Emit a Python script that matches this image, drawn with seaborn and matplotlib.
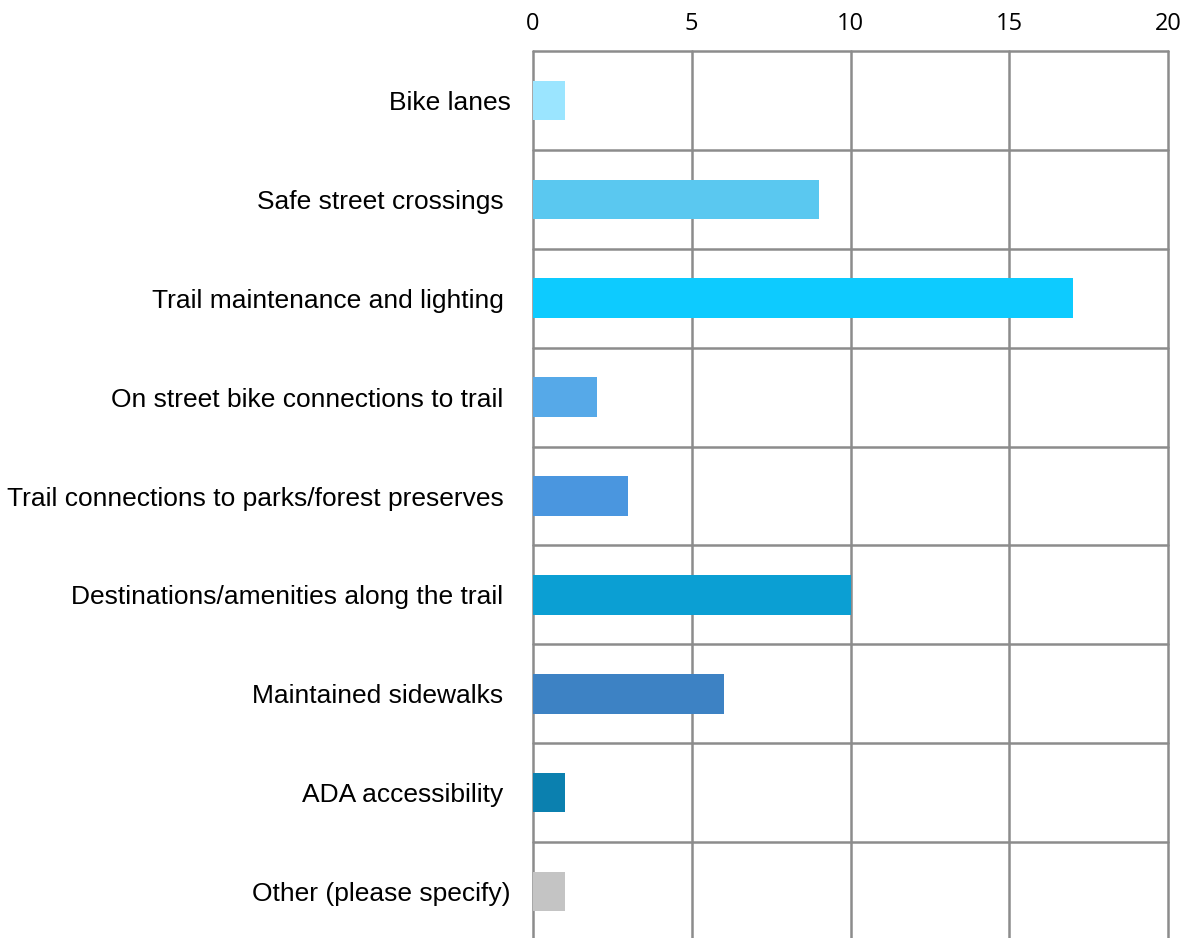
import matplotlib
matplotlib.use("Agg")
import matplotlib.pyplot as plt
import seaborn as sns
import pandas as pd
import numpy as np

categories = ["Bike lanes", "Safe street crossings ", "Trail maintenance and lighting ",
              "On street bike connections to trail ", "Trail connections to parks/forest preserves ",
              "Destinations/amenities along the trail ", "Maintained sidewalks ",
              "ADA accessibility ", "Other (please specify)"]
values = [1, 9, 17, 2, 3, 10, 6, 1, 1]
colors = ["#9BE5FF", "#5AC8F0", "#0DCBFF", "#56A9E8", "#4A96DF",
          "#0B9FD3", "#3D82C4", "#0B80AF", "#C4C4C4"]
xticks = [0, 5, 10, 15, 20]

sns.set_style("white")
plt.rcParams['font.family'] = ['Liberation Sans', 'DejaVu Sans']
plt.rcParams['text.color'] = 'black'
plt.rcParams['xtick.color'] = 'black'
plt.rcParams['ytick.color'] = 'black'

df = pd.DataFrame({"category": categories, "value": values})

fig = plt.figure(figsize=(11.86, 9.38), dpi=100)
ax = fig.add_axes([533/1186, -3/938, (1168-533)/1186, 890/938])

sns.barplot(data=df, y="category", x="value", hue="category", palette=colors,
            orient="h", width=0.4, legend=False, ax=ax, saturation=1, linewidth=0)

grid_c = "#8C8C8C"
ax.set_xlim(0, 20)
ax.set_ylim(len(categories) - 0.5, -0.5)
ax.xaxis.tick_top()
ax.set_xticks(xticks)
ax.set_xticklabels([str(t) for t in xticks], fontsize=17, family=['Open Sans', 'DejaVu Sans'],
                   color='black')
ax.set_yticks(range(len(categories)))
ax.set_yticklabels(categories, fontsize=19, color='black', family=['Liberation Sans', 'DejaVu Sans'])
ax.tick_params(axis='both', which='both', length=0)
ax.tick_params(axis='y', pad=16)
ax.tick_params(axis='x', pad=11)
ax.set_xlabel("")
ax.set_ylabel("")
ax.grid(False)
for x in xticks:
    ax.axvline(x, color=grid_c, lw=1.8, zorder=0, clip_on=False)
for y in np.arange(-0.5, len(categories), 1):
    ax.axhline(y, color=grid_c, lw=1.8, zorder=0, clip_on=False)
for s in ["left", "right", "top", "bottom"]:
    ax.spines[s].set_visible(False)

fig.savefig("out.png", dpi=100)
